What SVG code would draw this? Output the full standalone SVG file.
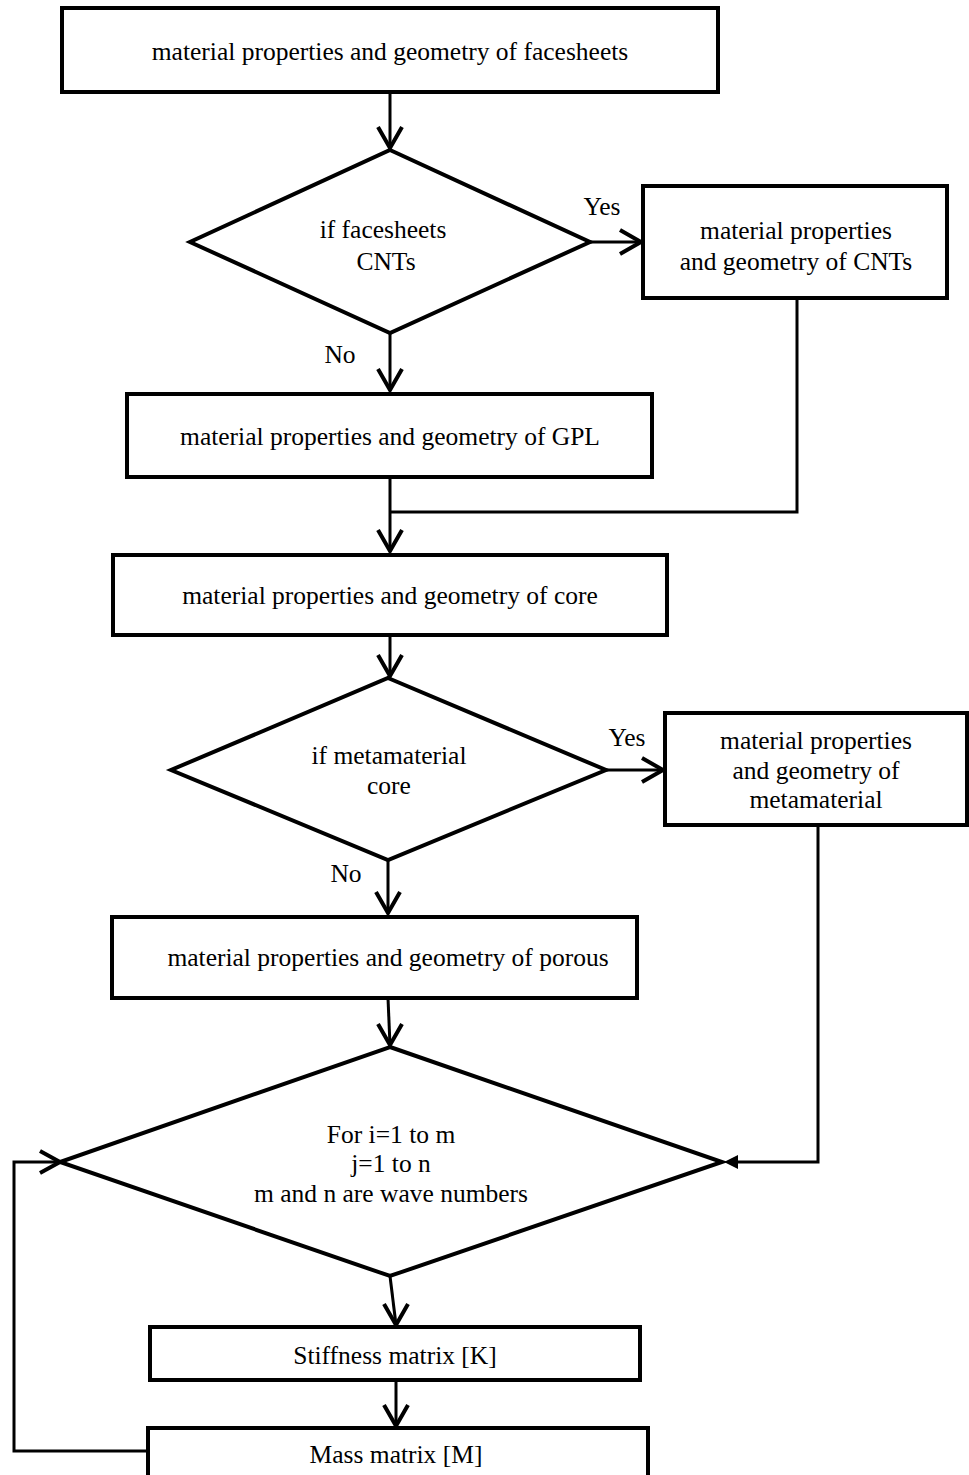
<svg xmlns="http://www.w3.org/2000/svg" width="969" height="1475" viewBox="0 0 969 1475">
<style>
.n{fill:#fff;stroke:#000;stroke-width:4}
.t{font-family:'Liberation Serif','Times New Roman',Times,serif;font-size:25.5px;fill:#000;text-anchor:middle}
.c{fill:none;stroke:#000;stroke-width:3}
.h{fill:none;stroke:#000;stroke-width:4}
</style>
<rect width="969" height="1475" fill="#fff"/>
<g id="connectors">
<path class="c" d="M390 92V148"/><path class="h" d="M378 127L390 148L402 127"/>
<path class="c" d="M590 242H641"/><path class="h" d="M620 230L641 242L620 254"/>
<path class="c" d="M390 333V390"/><path class="h" d="M378 369L390 390L402 369"/>
<path class="c" d="M390 477V551"/><path class="h" d="M378 530L390 551L402 530"/>
<path class="c" d="M797 298V512H390"/>
<path class="c" d="M390 635V676"/><path class="h" d="M378 655L390 676L402 655"/>
<path class="c" d="M606 770H663"/><path class="h" d="M642 758L663 770L642 782"/>
<path class="c" d="M388 860V913"/><path class="h" d="M376 892L388 913L400 892"/>
<path class="c" d="M388 998L390 1045"/><path class="h" d="M378 1024L390 1045L402 1024"/>
<path class="c" d="M818 825V1162H730"/><path d="M724 1162L738 1155V1169Z" fill="#000"/>
<path class="c" d="M390 1276L396 1325"/><path class="h" d="M384 1304L396 1325L408 1304"/>
<path class="c" d="M396 1380V1426"/><path class="h" d="M384 1405L396 1426L408 1405"/>
<path class="c" d="M148 1451H14V1162H58"/><path class="h" d="M40 1151L60 1162L40 1173"/>
<text class="t" x="602" y="215">Yes</text>
<text class="t" x="340" y="363">No</text>
<text class="t" x="627" y="746">Yes</text>
<text class="t" x="346" y="882">No</text>
</g>
<g id="n1"><rect class="n" x="62" y="8" width="656" height="84"/><text class="t" x="390" y="60">material properties and geometry of facesheets</text></g>
<g id="d1"><path class="n" d="M390 150L590 242L390 333L190 242Z"/><text class="t" x="383" y="238">if facesheets</text><text class="t" x="386" y="270">CNTs</text></g>
<g id="n2"><rect class="n" x="643" y="186" width="304" height="112"/><text class="t" x="796" y="239">material properties</text><text class="t" x="796" y="270">and geometry of CNTs</text></g>
<g id="n3"><rect class="n" x="127" y="394" width="525" height="83"/><text class="t" x="390" y="445">material properties and geometry of GPL</text></g>
<g id="n4"><rect class="n" x="113" y="555" width="554" height="80"/><text class="t" x="390" y="604">material properties and geometry of core</text></g>
<g id="d2"><path class="n" d="M388 678L606 770L388 860L171 770Z"/><text class="t" x="389" y="764">if metamaterial</text><text class="t" x="389" y="794">core</text></g>
<g id="n5"><rect class="n" x="665" y="713" width="302" height="112"/><text class="t" x="816" y="749">material properties</text><text class="t" x="816" y="779">and geometry of</text><text class="t" x="816" y="808">metamaterial</text></g>
<g id="n6"><rect class="n" x="112" y="917" width="525" height="81"/><text class="t" x="388" y="966">material properties and geometry of porous</text></g>
<g id="d3"><path class="n" d="M390 1047L722 1162L390 1276L60 1162Z"/><text class="t" x="391" y="1143">For i=1 to m</text><text class="t" x="391" y="1172">j=1 to n</text><text class="t" x="391" y="1202">m and n are wave numbers</text></g>
<g id="n7"><rect class="n" x="150" y="1327" width="490" height="53"/><text class="t" x="395" y="1364">Stiffness matrix [K]</text></g>
<g id="n8"><rect class="n" x="148" y="1428" width="500" height="60"/><text class="t" x="396" y="1463">Mass matrix [M]</text></g>
</svg>
